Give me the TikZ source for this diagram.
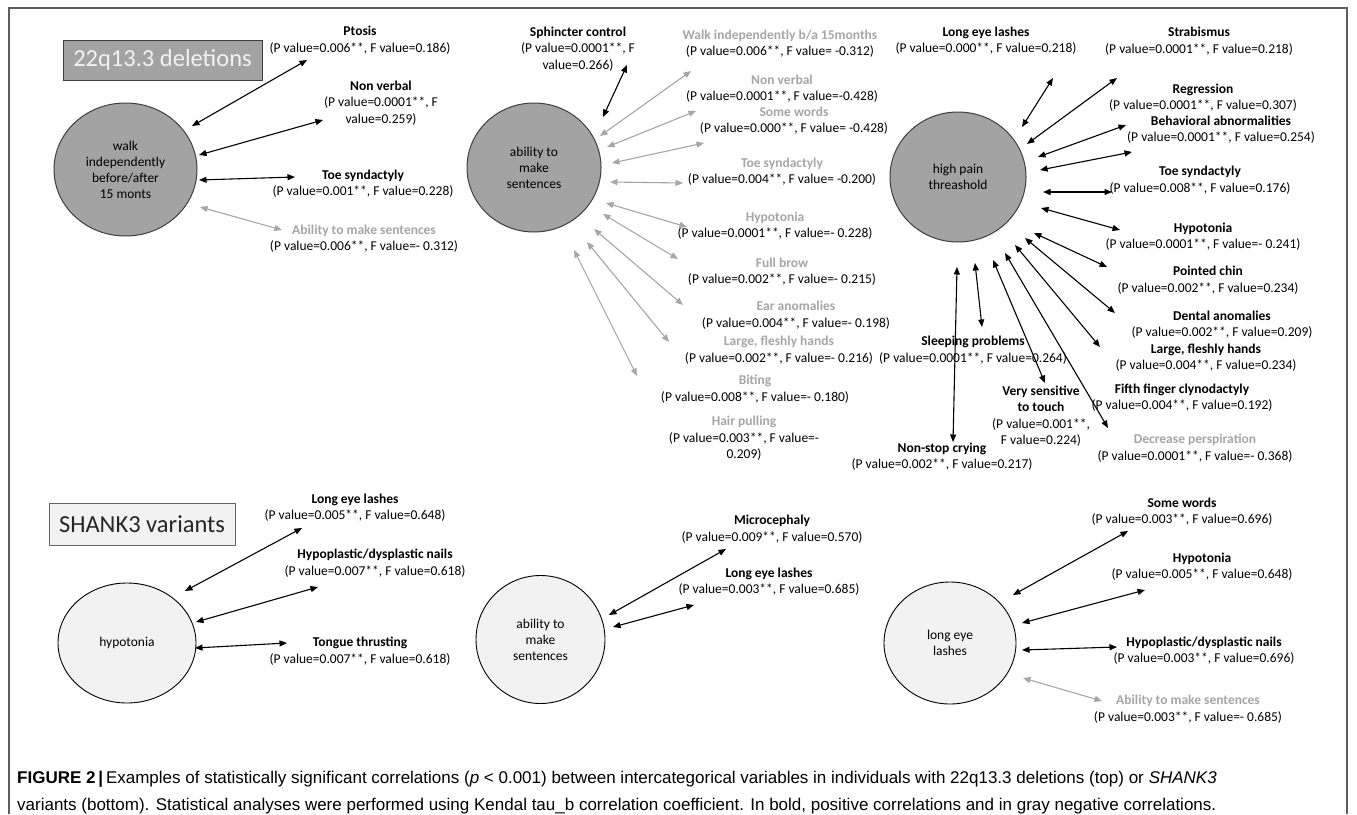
\documentclass[tikz,border=0pt]{standalone}
\usepackage{fontspec}
\setmainfont{Carlito}
\newfontfamily\capfont{Liberation Sans}
\usetikzlibrary{arrows.meta,shapes.geometric}
\definecolor{negc}{HTML}{A6A6A6}
\definecolor{darkfill}{HTML}{A3A3A3}
\definecolor{lightfill}{HTML}{F2F2F2}
\definecolor{edgec}{HTML}{3F3F3F}
\definecolor{framec}{HTML}{5E5E5E}
\newcommand{\ngt}[1]{\textcolor{negc}{\textbf{#1}}}
\tikzset{
  lbl/.style={font=\fontsize{13.5}{16.5}\selectfont, align=center, inner sep=0pt},
  arrbase/.style={line width=1.1pt, {Triangle[length=7.5pt,width=6pt]}-{Triangle[length=7.5pt,width=6pt]}},
  posarr/.style={arrbase, draw=black},
  negarr/.style={arrbase, draw=negc},
  darkcirc/.style={ellipse, draw=edgec, line width=1pt, fill=darkfill, inner sep=0pt, align=center, font=\fontsize{13.5}{16}\selectfont},
  lightcirc/.style={ellipse, draw=black, line width=0.9pt, fill=lightfill, inner sep=0pt, align=center, font=\fontsize{13.5}{16}\selectfont},
  titlebox/.style={line width=1pt, inner sep=0pt, font=\fontsize{24.5}{28}\selectfont},
  captext/.style={anchor=base west, inner sep=0pt, font=\capfont\fontsize{17}{20}\selectfont}
}
\begin{document}
\begin{tikzpicture}[x=1pt,y=-1pt]
\useasboundingbox (0,0) rectangle (1357,814);
\fill[white] (0,0) rectangle (1357,814);
% frame
\draw[framec, line width=1.2pt] (9,814) -- (9,8) -- (1347,8) -- (1347,814);

% title boxes
\node[titlebox, draw=edgec, fill=darkfill, text=lightfill, minimum width=199pt, minimum height=40pt] (t1) at (162.5,60) {22q13.3 deletions};
\node[titlebox, draw=edgec!80, fill=lightfill, text=black!85, minimum width=186pt, minimum height=42pt] (t2) at (142,524) {SHANK3 variants};

% circles
\node[darkcirc, minimum width=143pt, minimum height=133pt] (c1) at (125.5,169.5) {walk\\independently\\before/after\\15 monts};
\node[darkcirc, minimum width=134pt, minimum height=129pt] (c2) at (534,167.5) {ability to\\make\\sentences};
\node[darkcirc, minimum width=136pt, minimum height=130pt] (c3) at (958,177) {high pain\\threashold};
\node[lightcirc, minimum width=138pt, minimum height=120pt] (c4) at (127,643) {hypotonia};
\node[lightcirc, minimum width=129pt, minimum height=128pt] (c5) at (540.5,639.5) {ability to\\make\\sentences};
\node[lightcirc, minimum width=132pt, minimum height=122pt] (c6) at (950,643) {long eye\\lashes};

% labels, top left
\node[lbl] (lPtosis) at (360,40) {\textbf{Ptosis}\\(P value=0.006**, F value=0.186)};
\node[lbl] (lNonv1) at (381,103) {\textbf{Non verbal}\\(P value=0.0001**, F\\value=0.259)};
\node[lbl] (lToe1) at (363,183.5) {\textbf{Toe syndactyly}\\(P value=0.001**, F value=0.228)};
\node[lbl] (lAbil1) at (364,238.5) {\ngt{Ability to make sentences}\\(P value=0.006**, F value=- 0.312)};

% labels, top middle
\node[lbl] (lSph) at (578,49) {\textbf{Sphincter control}\\(P value=0.0001**, F\\value=0.266)};
\node[lbl] (lWalk) at (780,43.5) {\ngt{Walk independently b/a 15months}\\(P value=0.006**, F value= -0.312)};
\node[lbl] (lNonv2) at (782,88.5) {\ngt{Non verbal}\\(P value=0.0001**, F value=-0.428)};
\node[lbl] (lSome2) at (794,120.5) {\ngt{Some words}\\(P value=0.000**, F value= -0.428)};
\node[lbl] (lToe2) at (782,171.5) {\ngt{Toe syndactyly}\\(P value=0.004**, F value= -0.200)};
\node[lbl] (lHyp2) at (775,225.5) {\ngt{Hypotonia}\\(P value=0.0001**, F value=- 0.228)};
\node[lbl] (lBrow) at (782,271.5) {\ngt{Full brow}\\(P value=0.002**, F value=- 0.215)};
\node[lbl] (lEar) at (796,315) {\ngt{Ear anomalies}\\(P value=0.004**, F value=- 0.198)};
\node[lbl] (lHands2) at (779,350) {\ngt{Large, fleshly hands}\\(P value=0.002**, F value=- 0.216)};
\node[lbl] (lBiting) at (755,389) {\ngt{Biting}\\(P value=0.008**, F value=- 0.180)};
\node[lbl] (lHair) at (744,438.5) {\ngt{Hair pulling}\\(P value=0.003**, F value=-\\0.209)};

% labels, top right
\node[lbl] (lLash3) at (986,40.5) {\textbf{Long eye lashes}\\(P value=0.000**, F value=0.218)};
\node[lbl] (lStrab) at (1199,41) {\textbf{Strabismus}\\(P value=0.0001**, F value=0.218)};
\node[lbl] (lRegr) at (1203,97.5) {\textbf{Regression}\\(P value=0.0001**, F value=0.307)};
\node[lbl] (lBehav) at (1221,129.5) {\textbf{Behavioral abnormalities}\\(P value=0.0001**, F value=0.254)};
\node[lbl] (lToe3) at (1200,180) {\textbf{Toe syndactyly}\\(P value=0.008**, F value=0.176)};
\node[lbl] (lHyp3) at (1203,236.5) {\textbf{Hypotonia}\\(P value=0.0001**, F value=- 0.241)};
\node[lbl] (lChin) at (1208,280) {\textbf{Pointed chin}\\(P value=0.002**, F value=0.234)};
\node[lbl] (lDental) at (1222,324.5) {\textbf{Dental anomalies}\\(P value=0.002**, F value=0.209)};
\node[lbl] (lHands3) at (1206,357.5) {\textbf{Large, fleshly hands}\\(P value=0.004**, F value=0.234)};
\node[lbl] (lFifth) at (1182,397.5) {\textbf{Fifth finger clynodactyly}\\(P value=0.004**, F value=0.192)};
\node[lbl] (lDecr) at (1195,448) {\ngt{Decrease perspiration}\\(P value=0.0001**, F value=- 0.368)};
\node[lbl] (lSleep) at (973,350) {\textbf{Sleeping problems}\\(P value=0.0001**, F value=0.264)};
\node[lbl] (lTouch) at (1041,416) {\textbf{Very sensitive}\\\textbf{to touch}\\(P value=0.001**,\\F value=0.224)};
\node[lbl] (lCry) at (942,456.5) {\textbf{Non-stop crying}\\(P value=0.002**, F value=0.217)};

% labels, bottom
\node[lbl] (lLash4) at (355,507.5) {\textbf{Long eye lashes}\\(P value=0.005**, F value=0.648)};
\node[lbl] (lNails4) at (375,563) {\textbf{Hypoplastic/dysplastic nails}\\(P value=0.007**, F value=0.618)};
\node[lbl] (lTongue) at (360,651) {\textbf{Tongue thrusting}\\(P value=0.007**, F value=0.618)};
\node[lbl] (lMicro) at (772,529) {\textbf{Microcephaly}\\(P value=0.009**, F value=0.570)};
\node[lbl] (lLash5) at (769,581.5) {\textbf{Long eye lashes}\\(P value=0.003**, F value=0.685)};
\node[lbl] (lSome6) at (1182,511.5) {\textbf{Some words}\\(P value=0.003**, F value=0.696)};
\node[lbl] (lHyp6) at (1202,566.5) {\textbf{Hypotonia}\\(P value=0.005**, F value=0.648)};
\node[lbl] (lNails6) at (1204,650.5) {\textbf{Hypoplastic/dysplastic nails}\\(P value=0.003**, F value=0.696)};
\node[lbl] (lAbil6) at (1188,709) {\ngt{Ability to make sentences}\\(P value=0.003**, F value=- 0.685)};

% positive (black) connectors
\foreach \n/\sx/\sy/\ex/\ey in {
  1/192/126/307/60, 2/199/155/323/120, 3/199/180/295/177,
  5/603/117/627/65,
  15/1022/127/1053/78, 16/1027/144/1117/78, 17/1038/157/1126/125,
  18/1040/170/1132/152, 19/1043/192/1112/192, 20/1041/208/1120/230,
  21/1034/233/1107/267, 22/1025/238/1115/313, 23/1015/245/1100/347,
  24/1005/253/1108/428, 25/993/260/1045/383, 26/975/263/982/327,
  27/957/267/953/442,
  28/185/591/302/528, 29/196/622/318/587, 30/195/648/287/643,
  31/609/615/726/549, 32/613/627/694/605,
  33/1013/595/1128/531, 34/1022/623/1145/590, 35/1022/650/1117/647}
{
  \coordinate (s\n) at (\sx,\sy);
  \coordinate (e\n) at (\ex,\ey);
  \draw[posarr] (s\n) -- (e\n);
}
% negative (gray) connectors
\foreach \n/\sx/\sy/\ex/\ey in {
  4/200/207/282/230,
  6/600/136/691/71, 7/607/147/696/111, 8/612/163/704/143,
  9/610/182/683/183, 10/606/203/687/227, 11/603/214/678/259,
  12/594/229/683/305, 13/587/242/669/342, 14/574/250/637/376,
  36/1023/678/1102/701}
{
  \coordinate (s\n) at (\sx,\sy);
  \coordinate (e\n) at (\ex,\ey);
  \draw[negarr] (s\n) -- (e\n);
}

% caption
\node[captext] (cap1) at (17,783)
 {\textbf{FIGURE 2}\,\textbf{|}\,Examples of statistically significant correlations (\textit{p} < 0.001) between intercategorical variables in individuals with 22q13.3 deletions (top) or \textit{SHANK3}};
\node[captext] (cap2) at (17,810)
 {variants (bottom). Statistical analyses were performed using Kendal tau\_b correlation coefficient. In bold, positive correlations and in gray negative correlations.};
\end{tikzpicture}
\end{document}
